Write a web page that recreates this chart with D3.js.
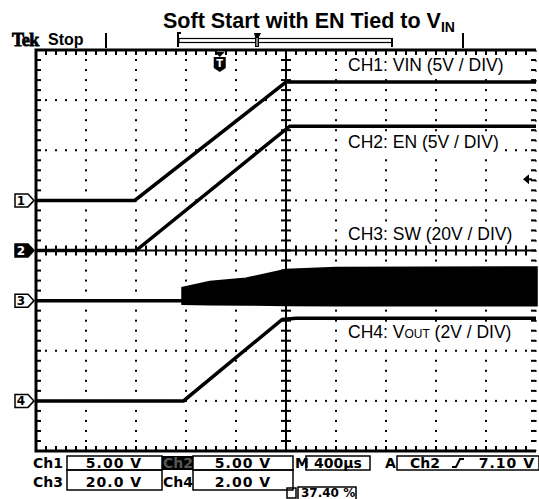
<!DOCTYPE html>
<html>
<head>
<meta charset="utf-8">
<script src="https://cdn.jsdelivr.net/npm/d3@7"></script>
<style>
  body { margin: 0; background: #fff; }
  svg { display: block; }
</style>
</head>
<body>
<div id="chart"></div>
<script>
// time in µs from left edge of the screen (400 µs / div, 10 div)
const vinTime  = [0, 790, 2000, 4000];
const vinVolts = [0, 0, 11.8, 11.8];

const enTime  = [0, 800, 2030, 4000];
const enVolts = [0, 0, 12.4, 12.4];

const swTime = [0, 1176, 1176, 1392, 1680, 2000, 2400, 4000];
const swHigh = [0, 0, 4.9, 7.2, 8.5, 12.0, 12.8, 13.0];
const swLow  = [0, 0, -1.1, -1.2, -1.3, -1.5, -1.6, -1.6];

const voutTime  = [0, 1180, 1970, 2080, 4000];
const voutVolts = [0, 0, 3.25, 3.3, 3.3];

const channelIds   = ["1", "2", "3", "4"];
const channelScale = [5, 5, 20, 2];      // V / div
const channelZero  = [1, 0, -1, -3];     // ground marker, div from centre
const channelText  = ["CH1:  VIN (5V / DIV)", "CH2:  EN (5V / DIV)", "CH3:  SW (20V / DIV)", "CH4:  V"];
const channelTextDiv = [3.58, 2.04, 0.21, -1.75]; // label baseline, div from centre

const triggerTime  = 1470;
const triggerLevel = 7.1; // on Ch2

const W = 539, H = 499;
const svg = d3.select("#chart").append("svg").attr("width", W).attr("height", H);

const x = d3.scaleLinear().domain([0, 4000]).range([36, 536]);
const div = d3.scaleLinear().domain([-4, 4]).range([451, 50]);
const yCh = (c, v) => div(channelZero[c] + v / channelScale[c]);

const g = svg.append("g");

// dotted graticule
for (let i = 1; i < 10; i++) {
  if (i === 5) continue;
  for (let k = 1; k < 40; k++) {
    g.append("rect").attr("x", x(i * 400) - 1).attr("y", div(-4 + k / 5) - 1)
      .attr("width", 2).attr("height", 2).attr("fill", "#000");
  }
}
for (let j = -3; j <= 3; j++) {
  if (j === 0) continue;
  for (let k = 1; k < 50; k++) {
    g.append("rect").attr("x", x(k * 80) - 1).attr("y", div(j) - 1)
      .attr("width", 2).attr("height", 2).attr("fill", "#000");
  }
}

// centre lines with ticks
const cx = x(2000), cy = div(0);
g.append("line").attr("x1", cx).attr("x2", cx).attr("y1", div(4)).attr("y2", div(-4))
  .attr("stroke", "#000").attr("stroke-width", 2);
g.append("line").attr("x1", x(0)).attr("x2", x(4000)).attr("y1", cy).attr("y2", cy)
  .attr("stroke", "#000").attr("stroke-width", 2);
for (let k = 1; k < 50; k++) {
  const px = x(k * 80);
  g.append("line").attr("x1", px).attr("x2", px).attr("y1", cy - 5).attr("y2", cy + 5).attr("stroke", "#000").attr("stroke-width", 2);
  g.append("line").attr("x1", px).attr("x2", px).attr("y1", div(4)).attr("y2", div(4) + 5).attr("stroke", "#000").attr("stroke-width", 2);
  g.append("line").attr("x1", px).attr("x2", px).attr("y1", div(-4)).attr("y2", div(-4) - 5).attr("stroke", "#000").attr("stroke-width", 2);
}
for (let k = 1; k < 40; k++) {
  const py = div(-4 + k / 5);
  g.append("line").attr("x1", cx - 5).attr("x2", cx + 5).attr("y1", py).attr("y2", py).attr("stroke", "#000").attr("stroke-width", 2);
  g.append("line").attr("x1", x(0)).attr("x2", x(0) + 5).attr("y1", py).attr("y2", py).attr("stroke", "#000").attr("stroke-width", 2);
  g.append("line").attr("x1", x(4000)).attr("x2", x(4000) - 5).attr("y1", py).attr("y2", py).attr("stroke", "#000").attr("stroke-width", 2);
}

// frame
g.append("path")
  .attr("d", `M${x(4000)},${div(4)}H${x(0)}V${div(-4)}H${x(4000)}`)
  .attr("fill", "none").attr("stroke", "#000").attr("stroke-width", 3);
g.append("line").attr("x1", x(4000)).attr("x2", x(4000)).attr("y1", div(4)).attr("y2", div(-4))
  .attr("stroke", "#000").attr("stroke-width", 1).attr("stroke-dasharray", "2,8");

// traces
const trace = (c, ts, vs) => d3.line().x((d, i) => x(ts[i])).y((d, i) => yCh(c, vs[i]))(ts);
svg.append("path").attr("d", trace(0, vinTime, vinVolts)).attr("fill", "none").attr("stroke", "#000").attr("stroke-width", 3.5);
svg.append("path").attr("d", trace(1, enTime, enVolts)).attr("fill", "none").attr("stroke", "#000").attr("stroke-width", 3.5);
svg.append("path").attr("d", trace(3, voutTime, voutVolts)).attr("fill", "none").attr("stroke", "#000").attr("stroke-width", 3.5);
const swArea = d3.area()
  .x((d, i) => x(swTime[i]))
  .y0((d, i) => yCh(2, swLow[i]))
  .y1((d, i) => yCh(2, swHigh[i]));
svg.append("path").attr("d", swArea(swTime)).attr("fill", "#000").attr("stroke", "#000").attr("stroke-width", 3.5);

// channel labels with white backing
channelText.forEach((t, c) => {
  const lbl = svg.append("g");
  const txt = lbl.append("text")
    .attr("x", 348).attr("y", div(channelTextDiv[c]))
    .attr("font-family", "Liberation Sans, Arial, sans-serif").attr("font-size", 17.5)
    .text(t);
  if (c === 3) {
    txt.append("tspan").attr("font-size", 12).text("OUT");
    txt.append("tspan").text(" (2V / DIV)");
  }
  const bb = txt.node().getBBox();
  lbl.insert("rect", "text").attr("x", bb.x - 3).attr("y", bb.y + 1)
    .attr("width", bb.width + 6).attr("height", bb.height - 1).attr("fill", "#fff");
});

// ground markers
channelIds.forEach((id, c) => {
  const my = div(channelZero[c]);
  const dark = c === 1;
  svg.append("path")
    .attr("d", `M15,${my - 6.5}H28L34,${my}L28,${my + 6.5}H15Z`)
    .attr("fill", dark ? "#000" : "#fff").attr("stroke", "#000").attr("stroke-width", 1.5);
  svg.append("text").attr("x", 21).attr("y", my + 4.5).attr("text-anchor", "middle")
    .attr("font-family", "DejaVu Sans, sans-serif").attr("font-weight", "bold").attr("font-size", 12)
    .attr("fill", dark ? "#fff" : "#000").text(id);
});

// trigger level arrow
const ty = yCh(1, triggerLevel);
svg.append("path").attr("d", `M523,${ty}L529,${ty - 5}V${ty + 5}Z`).attr("fill", "#000");
svg.append("line").attr("x1", 528).attr("x2", 532).attr("y1", ty).attr("y2", ty).attr("stroke", "#000").attr("stroke-width", 2);

// trigger position marker
const tx = x(triggerTime);
svg.append("path").attr("d", `M${tx - 5},52H${tx + 5}L${tx},57Z`).attr("fill", "#000");
svg.append("path").attr("d", `M${tx - 6},57H${tx + 6}V68L${tx},72L${tx - 6},68Z`).attr("fill", "#000");
svg.append("text").attr("x", tx).attr("y", 67).attr("text-anchor", "middle")
  .attr("font-family", "DejaVu Sans, sans-serif").attr("font-weight", "bold").attr("font-size", 10)
  .attr("fill", "#fff").text("T");

// record bar
const bar = svg.append("g").attr("stroke", "#000").attr("fill", "none");
bar.append("line").attr("x1", 106).attr("x2", 106).attr("y1", 33).attr("y2", 48).attr("stroke-width", 2);
bar.append("line").attr("x1", 463).attr("x2", 463).attr("y1", 33).attr("y2", 48).attr("stroke-width", 2);
bar.append("path").attr("d", "M181,33H178V47").attr("stroke-width", 2);
bar.append("rect").attr("x", 179).attr("y", 38.5).attr("width", 213).attr("height", 4).attr("stroke-width", 1.2);
bar.append("path").attr("d", "M392,38V47").attr("stroke-width", 2);
svg.append("path").attr("d", "M254,33H261L259,37V47H255V37Z").attr("fill", "#000");
svg.append("line").attr("x1", 257).attr("x2", 257).attr("y1", 38).attr("y2", 46).attr("stroke", "#fff").attr("stroke-width", 1);

// title and status
const title = svg.append("text").attr("x", 163).attr("y", 28)
  .attr("font-family", "Liberation Sans, Arial, sans-serif").attr("font-weight", "bold").attr("font-size", 21.5)
  .text("Soft Start with EN Tied to V");
title.append("tspan").attr("dy", 4).attr("font-size", 14).text("IN");

svg.append("text").attr("x", 12).attr("y", 46)
  .attr("font-family", "Liberation Serif, serif").attr("font-weight", "bold").attr("font-size", 18)
  .attr("stroke", "#000").attr("stroke-width", 0.8)
  .attr("letter-spacing", -0.5).text("Tek");
svg.append("text").attr("x", 48).attr("y", 45)
  .attr("font-family", "Liberation Sans, Arial, sans-serif").attr("font-weight", "bold").attr("font-size", 16)
  .text("Stop");

// readouts
const readoutFont = t => t.attr("font-family", "DejaVu Sans, sans-serif").attr("font-weight", "bold").attr("font-size", 14);
const rd = svg.append("g");
const box = (x0, y0, w, h) => rd.append("rect").attr("x", x0).attr("y", y0).attr("width", w).attr("height", h)
  .attr("fill", "none").attr("stroke", "#000").attr("stroke-width", 1.5);
const label = (x0, y0, s, anchor = "start") => readoutFont(rd.append("text").attr("x", x0).attr("y", y0).attr("text-anchor", anchor).text(s));

label(33, 468, "Ch1");
box(67, 456, 95, 14); label(114, 468, "5.00 V", "middle").attr("letter-spacing", 1);
rd.append("rect").attr("x", 162).attr("y", 456).attr("width", 31).attr("height", 14).attr("fill", "#000");
label(163, 468, "Ch2").attr("fill", "#555");
box(193, 456, 100, 14); label(243, 468, "5.00 V", "middle").attr("letter-spacing", 1);
label(295, 468, "M");
box(306, 456, 64, 14); label(338, 468, "400µs", "middle");
label(385, 468, "A");
box(397, 456, 142, 14); label(410, 468, "Ch2");
rd.append("path").attr("d", "M452,467H456L460,459H464").attr("fill", "none").attr("stroke", "#000").attr("stroke-width", 2);
label(535, 468, "7.10 V", "end").attr("letter-spacing", 1);

label(33, 487, "Ch3");
box(67, 470, 95, 20); label(114, 487, "20.0 V", "middle").attr("letter-spacing", 1);
label(163, 487, "Ch4");
box(193, 470, 100, 20); label(243, 487, "2.00 V", "middle").attr("letter-spacing", 1);

rd.append("rect").attr("x", 287).attr("y", 488).attr("width", 9).attr("height", 10).attr("fill", "none").attr("stroke", "#000").attr("stroke-width", 1.5);
rd.append("path").attr("d", "M298,499V487H356V499").attr("fill", "none").attr("stroke", "#000").attr("stroke-width", 1.5);
label(301, 497, "37.40 %").attr("font-size", 12);
</script>
</body>
</html>
